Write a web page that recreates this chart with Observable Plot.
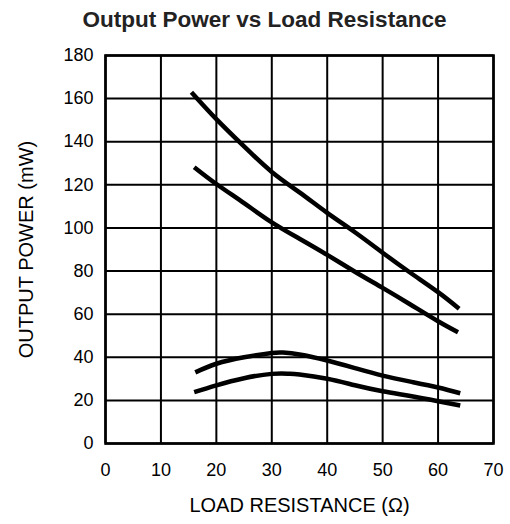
<!DOCTYPE html>
<html>
<head>
<meta charset="utf-8">
<script src="https://cdn.jsdelivr.net/npm/d3@7"></script>
<script src="https://cdn.jsdelivr.net/npm/@observablehq/plot@0.6"></script>
<style>
  html, body { margin: 0; padding: 0; background: #fff; }
  #title {
    height: 40px; box-sizing: border-box; padding-top: 7px; padding-left: 19px;
    text-align: center; font-family: "Liberation Sans", Arial, sans-serif;
    font-weight: bold; font-size: 22.5px; color: #222; line-height: normal;
  }
</style>
</head>
<body>
<div id="title">Output Power vs Load Resistance</div>
<div id="chart"></div>
<script>
// Tick values
const xTicks = [0, 10, 20, 30, 40, 50, 60, 70];
const yTicks = [0, 20, 40, 60, 80, 100, 120, 140, 160, 180];

// Curve 1 (top)
const loadA  = [15.5, 20, 25, 30, 35, 40, 45, 50, 55, 60, 63.8];
const powerA = [163, 150.5, 137.8, 126, 116.5, 107, 98, 88.5, 79.2, 70.2, 62.5];
// Curve 2
const loadB  = [16, 20, 25, 30, 35, 40, 45, 50, 55, 60, 63.6];
const powerB = [128.2, 120.4, 111.5, 102.6, 95, 87.5, 79.7, 72.2, 64.5, 56.7, 51.6];
// Curve 3
const loadC  = [16.2, 20, 25, 30, 32, 35, 40, 45, 50, 55, 60, 64];
const powerC = [33, 37, 40, 42, 42.2, 41.3, 38.5, 35, 31.5, 28.7, 26, 23.3];
// Curve 4
const loadD  = [16, 20, 25, 30, 33, 35, 40, 45, 50, 55, 60, 64];
const powerD = [23.8, 27, 30.3, 32.3, 32.4, 32, 30, 27, 24.2, 22, 19.6, 17.6];

const xLabel = "LOAD RESISTANCE (\u03A9)";
const yLabel = "OUTPUT POWER (mW)";

const rows = [];
[["A", loadA, powerA], ["B", loadB, powerB], ["C", loadC, powerC], ["D", loadD, powerD]]
  .forEach(([s, xs, ys]) => xs.forEach((x, i) => rows.push({series: s, load: x, power: ys[i]})));

const chart = Plot.plot({
  width: 510,
  height: 484,
  marginTop: 15,
  marginBottom: 81,
  marginLeft: 105,
  marginRight: 17,
  style: {fontFamily: '"Liberation Sans", Arial, sans-serif', fontSize: "18px", color: "#000", background: "#fff"},
  x: {domain: [0, 70], ticks: xTicks, tickSize: 0, tickPadding: 20, label: null},
  y: {domain: [0, 180], ticks: yTicks, tickSize: 0, tickPadding: 12, label: null},
  marks: [
    Plot.ruleX(xTicks, {stroke: "#000", strokeWidth: 2}),
    Plot.ruleY(yTicks, {stroke: "#000", strokeWidth: 2}),
    Plot.frame({stroke: "#000", strokeWidth: 2.6}),
    Plot.line(rows, {x: "load", y: "power", z: "series", curve: "natural",
      stroke: "#000", strokeWidth: 4.5, strokeLinecap: "butt", strokeLinejoin: "round"}),
    Plot.text([xLabel], {frameAnchor: "bottom", lineAnchor: "middle", dy: 62, fontSize: 20, fill: "#000", letterSpacing: "0.5px"}),
    Plot.text([yLabel], {frameAnchor: "left", textAnchor: "middle", lineAnchor: "middle", dx: -79, rotate: -90, fontSize: 20, fill: "#000", letterSpacing: "0.5px"})
  ]
});
document.getElementById("chart").appendChild(chart);
</script>
</body>
</html>
